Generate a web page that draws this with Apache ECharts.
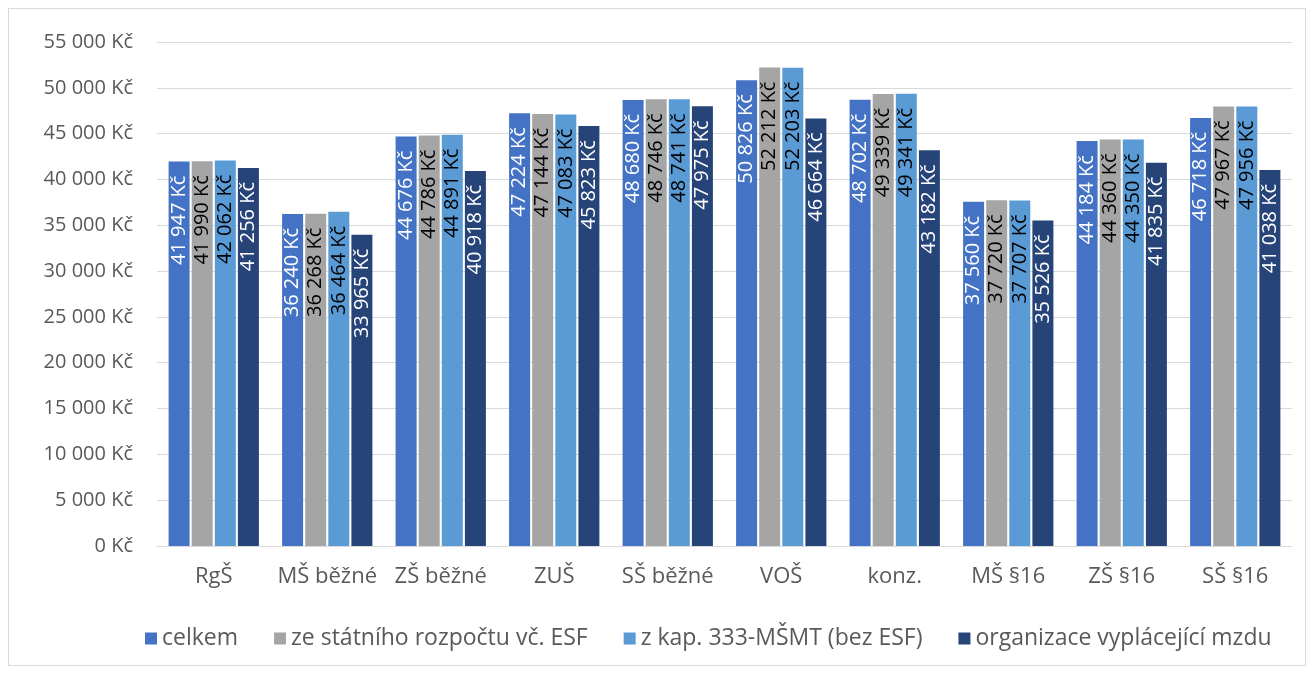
<!DOCTYPE html>
<html><head><meta charset="utf-8">
<script src="https://cdn.jsdelivr.net/npm/echarts@6/dist/echarts.min.js"></script>
<style>html,body{margin:0;padding:0;background:#fff}#c{width:1310px;height:675px}
#frame{position:absolute;left:8px;top:8px;width:1296px;height:656px;border:1px solid #d9d9d9;pointer-events:none}</style>
</head><body><div id="c"></div><div id="frame"></div>
<script>
var categories = ['RgŠ','MŠ běžné','ZŠ běžné','ZUŠ','SŠ běžné','VOŠ','konz.','MŠ §16','ZŠ §16','SŠ §16'];
var seriesNames = ['celkem','ze státního rozpočtu vč. ESF','z kap. 333-MŠMT (bez ESF)','organizace vyplácející mzdu'];
var celkem = [41947,36240,44676,47224,48680,50826,48702,37560,44184,46718];
var statniRozpocet = [41990,36268,44786,47144,48746,52212,49339,37720,44360,47967];
var kap333 = [42062,36464,44891,47083,48741,52203,49341,37707,44350,47956];
var organizace = [41256,33965,40918,45823,47975,46664,43182,35526,41835,41038];
var colors = ['#4472C4','#A5A5A5','#5B9BD5','#264478'];
var labelColors = ['#ffffff','#000000','#000000','#ffffff'];
var dataSets = [celkem, statniRozpocet, kap333, organizace];

function fmt(v){ return String(v).replace(/\B(?=(\d{3})+(?!\d))/g,' ') + ' Kč'; }
var font = 'Open Sans, Liberation Sans, sans-serif';
var chart = echarts.init(document.getElementById('c'), null, {renderer:'canvas'});
chart.setOption({
  animation:false,
  color: colors,
  grid:{left:157,right:18,top:42,bottom:129},
  legend:{
    bottom:20, left:140, itemWidth:12, itemHeight:12, itemGap:36, icon:'rect',
    textStyle:{color:'#595959', fontSize:23, fontFamily:font}
  },
  xAxis:{
    type:'category', data:categories,
    axisLine:{lineStyle:{color:'#d9d9d9'}}, axisTick:{show:false},
    axisLabel:{color:'#595959', fontSize:22, fontFamily:font, margin:20, interval:0}
  },
  yAxis:{
    type:'value', min:0, max:55000, interval:5000,
    axisLine:{show:false}, axisTick:{show:false},
    splitLine:{lineStyle:{color:'#d9d9d9', width:1}},
    axisLabel:{color:'#595959', fontSize:20, fontFamily:font, margin:24, formatter:function(v){return fmt(v);}}
  },
  series: seriesNames.map(function(n,i){
    return {
      name:n, type:'bar', data:dataSets[i], barWidth:21, barGap:'10%',
      itemStyle:{color:colors[i]},
      label:{show:true, position:'insideTop', rotate:90, align:'right', verticalAlign:'middle',
        distance:14, color:labelColors[i], fontSize:20, fontFamily:font,
        formatter:function(p){return fmt(p.value);}}
    };
  })
});
</script></body></html>
